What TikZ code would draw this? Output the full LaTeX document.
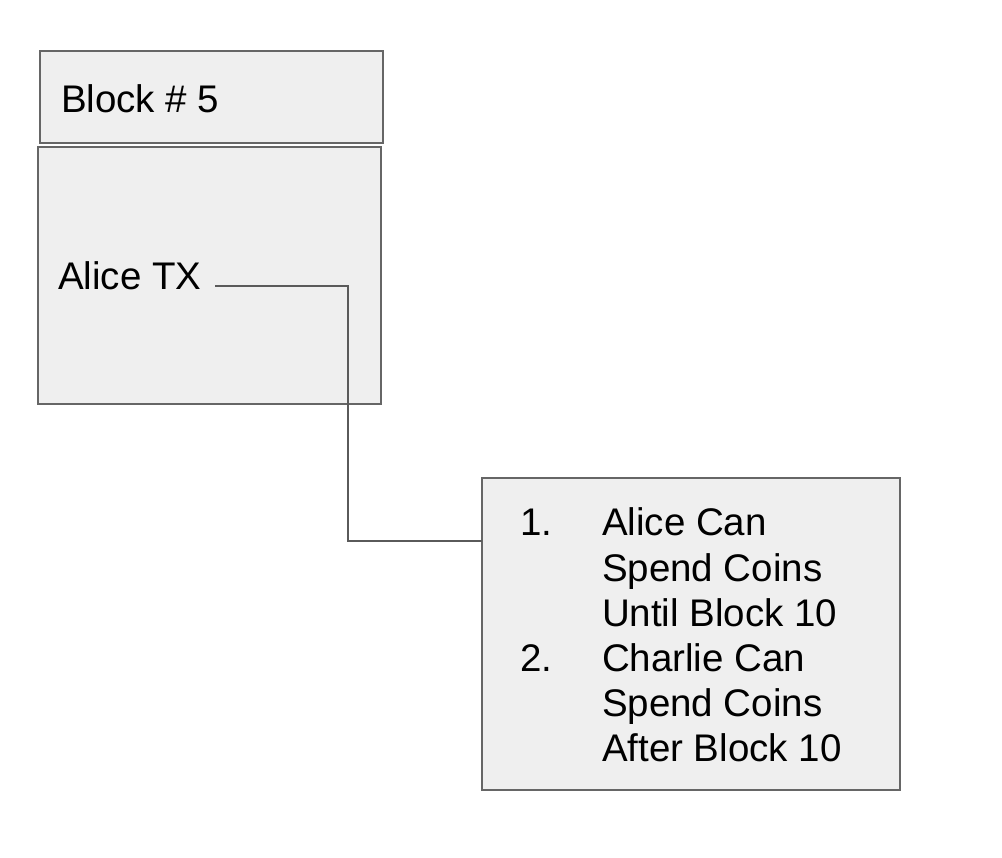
\documentclass[tikz,border=0pt]{standalone}
\usepackage{fontspec}
\setmainfont{Liberation Sans}
\begin{document}
\begin{tikzpicture}[x=1pt,y=-1pt,
  boxstyle/.style={draw=boxline,fill=boxfill,line width=2pt,inner sep=0pt,outer sep=0pt},
  txt/.style={inner sep=0pt,outer sep=0pt,anchor=base west,font=\fontsize{38.5}{45}\selectfont,text=black},
  conn/.style={draw=connline,line width=2pt}]
\definecolor{boxfill}{HTML}{EFEFEF}
\definecolor{boxline}{HTML}{666666}
\definecolor{connline}{HTML}{5A5A5A}
\useasboundingbox (0,0) rectangle (1002,858);
\fill[white] (0,0) rectangle (1002,858);
% boxes
\node[boxstyle,minimum width=343pt,minimum height=92pt,anchor=north west] (header) at (40,51) {};
\node[boxstyle,minimum width=343pt,minimum height=257pt,anchor=north west] (body) at (38,147) {};
\node[boxstyle,minimum width=418pt,minimum height=312pt,anchor=north west] (cond) at (482,478) {};
% texts
\node[txt] (blk) at (61,113) {Block \# 5};
\node[txt] (alice) at (58,290) {Alice TX};
\node[txt] (n1) at (520,536) {1.};
\node[txt] (l1) at (602,536) {Alice Can};
\node[txt] (l2) at (602,581) {Spend Coins};
\node[txt] (l3) at (602,626) {Until Block 10};
\node[txt] (n2) at (520,671) {2.};
\node[txt] (l4) at (602,671) {Charlie Can};
\node[txt] (l5) at (602,716) {Spend Coins};
\node[txt] (l6) at (602,761) {After Block 10};
% connector
\coordinate (cstart) at (215,286);
\coordinate (cend) at (cond.west |- 0,541);
\draw[conn] (cstart) -- (348,286) -- (348,541) -- (cend);
\end{tikzpicture}
\end{document}
